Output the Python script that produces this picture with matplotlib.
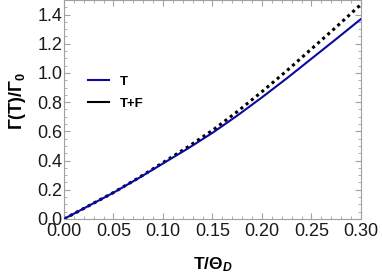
import matplotlib
matplotlib.use("Agg")
import matplotlib.pyplot as plt
from matplotlib.lines import Line2D
from matplotlib.ticker import MultipleLocator, FormatStrFormatter

plt.rcParams['font.family'] = ['Liberation Sans', 'DejaVu Sans']
plt.rcParams['mathtext.fontset'] = 'custom'
plt.rcParams['mathtext.rm'] = 'Liberation Sans'
plt.rcParams['mathtext.it'] = 'Liberation Sans:italic'
plt.rcParams['mathtext.bf'] = 'Liberation Sans:bold'
plt.rcParams['mathtext.bfit'] = 'Liberation Sans:italic:bold'

x_vals = [0.0, 0.025, 0.05, 0.075, 0.1, 0.125, 0.15, 0.175, 0.2, 0.225, 0.25, 0.275, 0.3]
gamma_T = [0.0, 0.09, 0.18, 0.278, 0.38, 0.482, 0.59, 0.708, 0.833, 0.963, 1.098, 1.233, 1.37]
gamma_TF = [0.0, 0.09, 0.181, 0.28, 0.386, 0.493, 0.607, 0.735, 0.872, 1.015, 1.165, 1.315, 1.47]
series_labels = ["T", "T+F"]

fig = plt.figure(figsize=(3.82, 2.73), dpi=100)
ax = fig.add_axes([0.1675, 0.198, 0.7775, 0.802])

ax.plot(x_vals, gamma_TF, color='black', linestyle=(0, (1, 1.2)), linewidth=2.2, zorder=2)
ax.plot(x_vals, gamma_T, color='#0a0aa0', linewidth=1.5, zorder=3)

ax.set_xlim(0, 0.30)
ax.set_ylim(0, 1.5)
ax.xaxis.set_major_locator(MultipleLocator(0.05))
ax.xaxis.set_minor_locator(MultipleLocator(0.01))
ax.yaxis.set_major_locator(MultipleLocator(0.2))
ax.yaxis.set_minor_locator(MultipleLocator(0.05))

grey = '#a0a0a0'
for s in ax.spines.values():
    s.set_color(grey)
    s.set_linewidth(0.8)
ax.tick_params(which='both', direction='in', top=True, right=True, color=grey,
               labelsize=13, labelcolor='#1a1a1a')
ax.tick_params(axis='x', pad=3)
ax.tick_params(axis='y', pad=1)
ax.tick_params(which='major', length=4, width=0.8)
ax.tick_params(which='minor', length=2, width=0.6)
ax.xaxis.set_major_formatter(FormatStrFormatter('%.2f'))
ax.yaxis.set_major_formatter(FormatStrFormatter('%.1f'))

ax.set_xlabel(r'T/Θ$_{\mathbfit{D}}$', fontsize=12.5, fontweight='bold', labelpad=11)
ax.set_ylabel(r'Γ(T)/Γ$_{\mathbf{0}}$', fontsize=13, fontweight='bold', labelpad=2)
ax.yaxis.set_label_coords(-0.12, 0.54)

handles = [Line2D([], [], color='#0a0aa0', linewidth=1.5),
           Line2D([], [], color='black', linewidth=1.5)]
leg = ax.legend(handles, series_labels, loc='upper left', bbox_to_anchor=(0.04, 0.71),
                frameon=False, prop={'weight': 'bold', 'size': 9.5},
                handlelength=1.6, handletextpad=0.8, labelspacing=0.75)

fig.savefig('out.png', dpi=100)
